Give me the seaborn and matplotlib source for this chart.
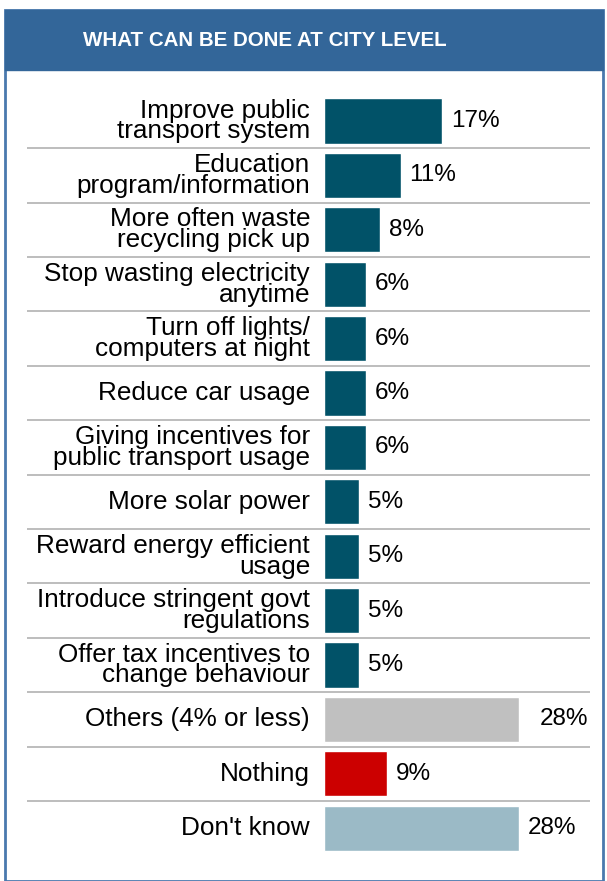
import matplotlib
matplotlib.use("Agg")
import matplotlib.pyplot as plt
from matplotlib.patches import Rectangle
import seaborn as sns
import pandas as pd

categories = [
    "Improve public\ntransport system",
    "Education\nprogram/information",
    "More often waste\nrecycling pick up",
    "Stop wasting electricity\nanytime",
    "Turn off lights/\ncomputers at night",
    "Reduce car usage",
    "Giving incentives for\npublic transport usage",
    "More solar power",
    "Reward energy efficient\nusage",
    "Introduce stringent govt\nregulations",
    "Offer tax incentives to\nchange behaviour",
    "Others (4% or less)",
    "Nothing",
    "Don't know",
]
values = [17, 11, 8, 6, 6, 6, 6, 5, 5, 5, 5, 28, 9, 28]
bar_colors = ["#015268"] * 11 + ["#C0C0C0", "#CC0000", "#9BBAC6"]
title = "WHAT CAN BE DONE AT CITY LEVEL"

W, H = 607, 881
sns.set_theme(style="white")
plt.rcParams["font.family"] = ["Liberation Sans", "DejaVu Sans"]

fig = plt.figure(figsize=(W / 100, H / 100), dpi=100)

# panel frame and header band (kept behind the chart axes)
fig.patches.append(Rectangle((5 / W, 0), 598 / W, 1 - 10 / H, transform=fig.transFigure,
                             facecolor="white", edgecolor="#4A79AE", linewidth=2.0, zorder=-2))
fig.patches.append(Rectangle((5 / W, 1 - 70 / H), 598 / W, 60 / H, transform=fig.transFigure,
                             facecolor="#336699", edgecolor="#336699", linewidth=1.0, zorder=-1))
fig.text(265 / W, 1 - 40 / H, title, color="white", fontsize=14.8, fontweight="bold",
         ha="center", va="center")

# chart area spans from the separator start to its end
px_per_unit = 6.96
ax_left, ax_right = 27, 590
zero_px = 324
top_px, pitch = 121 - 27.2, 54.4
ax_h = pitch * len(categories)
ax = fig.add_axes([ax_left / W, 1 - (top_px + ax_h) / H, (ax_right - ax_left) / W, ax_h / H])
ax.set_facecolor("none")

df = pd.DataFrame({"label": categories, "value": values})
sns.barplot(data=df, x="value", y="label", hue="label", palette=bar_colors,
            legend=False, width=0.83, saturation=1, ax=ax, orient="h")

ax.set_xlim(-(zero_px - ax_left) / px_per_unit, (ax_right - zero_px) / px_per_unit)
ax.set_ylim(len(categories) - 0.5, -0.5)
ax.set_xlabel("")
ax.set_ylabel("")
ax.set_xticks([])
ax.set_yticks([])
for s in ax.spines.values():
    s.set_visible(False)

for i, (lab, v) in enumerate(zip(categories, values)):
    ax.text(-2.0, i, lab, ha="right", va="center", fontsize=18.8, color="black",
            linespacing=0.84)
    offset = 3.0 if lab.startswith("Others") else 1.3
    ax.text(v + offset, i, f"{v}%", ha="left", va="center", fontsize=17.5, color="black")
    if i < len(categories) - 1:
        ax.axhline(i + 0.5, color="#BDBDBD", linewidth=1.4, zorder=0)

fig.savefig("out.png", dpi=100)
